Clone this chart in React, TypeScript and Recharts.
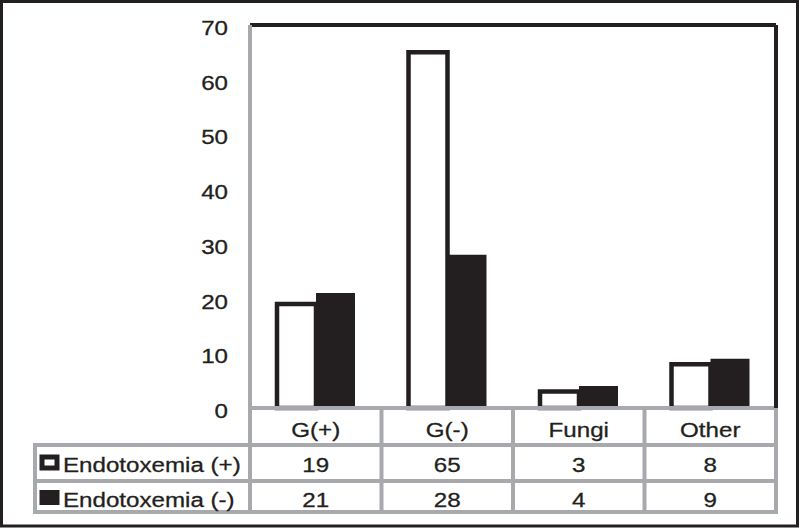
import React from 'react';
import { BarChart, Bar, XAxis, YAxis, ReferenceLine } from 'recharts';

const categories = ['G(+)', 'G(-)', 'Fungi', 'Other'];
const seriesNames = ['Endotoxemia (+)', 'Endotoxemia (-)'];
const endoPositive = [19, 65, 3, 8];
const endoNegative = [21, 28, 4, 9];
const yTicks = [0, 10, 20, 30, 40, 50, 60, 70];

const data = categories.map((name, i) => ({ name, pos: endoPositive[i], neg: endoNegative[i] }));

const W = 800;
const H = 529;
const PLOT_LEFT = 250;
const PLOT_RIGHT = 776;
const PLOT_TOP = 25;
const PLOT_BOTTOM = 408;
const ROW_LINES = [445, 481, 512];
const TABLE_BOTTOM = 512;
const BLACK = '#231f20';
const GREY = '#a7a9ac';
const FONT = '"Liberation Sans", Arial, sans-serif';
const SX = 1.15; // the original is slightly stretched horizontally

const Label = ({ x, y, anchor, children }: any) => (
  <g transform={`translate(${x},${y}) scale(${SX},1)`}>
    <text x={0} y={0} textAnchor={anchor} fontFamily={FONT} fontSize={21} fill={BLACK} stroke={BLACK} strokeWidth={0.3}>
      {children}
    </text>
  </g>
);

const YTick = ({ y, payload }: any) => (
  <Label x={PLOT_LEFT - 22} y={y + 10} anchor="end">{payload.value}</Label>
);

// each x tick draws one column of the data table under the plot
const TableColumn = ({ x, payload }: any) => {
  const i = payload.index;
  const half = (PLOT_RIGHT - PLOT_LEFT) / categories.length / 2;
  return (
    <g>
      {ROW_LINES.map(ly => (
        <line key={ly} x1={x - half} x2={x + half} y1={ly} y2={ly} stroke={GREY} strokeWidth={4} />
      ))}
      <line x1={x + half} x2={x + half} y1={PLOT_BOTTOM} y2={TABLE_BOTTOM + 2} stroke={GREY} strokeWidth={4} />
      <Label x={x} y={437} anchor="middle">{payload.value}</Label>
      <Label x={x} y={472} anchor="middle">{endoPositive[i]}</Label>
      <Label x={x} y={507} anchor="middle">{endoNegative[i]}</Label>
    </g>
  );
};

export default function App() {
  return (
    <div style={{ position: 'absolute', left: 0, top: 0, width: W, height: H, background: '#fff' }}>
      <BarChart
        width={W}
        height={H}
        data={data}
        margin={{ top: PLOT_TOP, right: W - PLOT_RIGHT - 1, bottom: 1, left: PLOT_LEFT - 60 }}
        barGap={0}
        barSize={39}
      >
        <XAxis
          dataKey="name"
          height={H - PLOT_BOTTOM - 1}
          axisLine={{ stroke: GREY, strokeWidth: 4 }}
          tickLine={false}
          tick={<TableColumn />}
          interval={0}
        />
        <YAxis
          width={60}
          domain={[0, 70]}
          ticks={yTicks}
          axisLine={{ stroke: GREY, strokeWidth: 4 }}
          tickLine={false}
          tick={<YTick />}
        />
        <YAxis
          yAxisId="r"
          orientation="right"
          width={1}
          domain={[0, 70]}
          axisLine={{ stroke: BLACK, strokeWidth: 4 }}
          tickLine={false}
          tick={false}
        />
        <ReferenceLine y={70} stroke={BLACK} strokeWidth={4} />
        <Bar dataKey="pos" name={seriesNames[0]} fill="#fff" stroke={BLACK} strokeWidth={4.5} isAnimationActive={false} />
        <Bar dataKey="neg" name={seriesNames[1]} fill={BLACK} isAnimationActive={false} />
      </BarChart>
      <svg width={W} height={H} style={{ position: 'absolute', left: 0, top: 0, pointerEvents: 'none' }}>
        <rect x={1.5} y={1.5} width={W - 4} height={H - 4.5} fill="none" stroke={BLACK} strokeWidth={3} />
        {/* legend column of the table */}
        <line x1={PLOT_LEFT} x2={PLOT_LEFT} y1={PLOT_BOTTOM} y2={TABLE_BOTTOM + 2} stroke={GREY} strokeWidth={4} />
        <rect x={35} y={ROW_LINES[0]} width={PLOT_LEFT - 35} height={TABLE_BOTTOM - ROW_LINES[0]} fill="none" stroke={GREY} strokeWidth={4} />
        <line x1={35} x2={PLOT_LEFT} y1={ROW_LINES[1]} y2={ROW_LINES[1]} stroke={GREY} strokeWidth={4} />
        <rect x={42} y={457} width={15} height={11} fill="#fff" stroke={BLACK} strokeWidth={5} />
        <rect x={39.5} y={490} width={20} height={15} fill={BLACK} />
        <Label x={63} y={472} anchor="start">{seriesNames[0]}</Label>
        <Label x={63} y={507} anchor="start">{seriesNames[1]}</Label>
      </svg>
    </div>
  );
}
